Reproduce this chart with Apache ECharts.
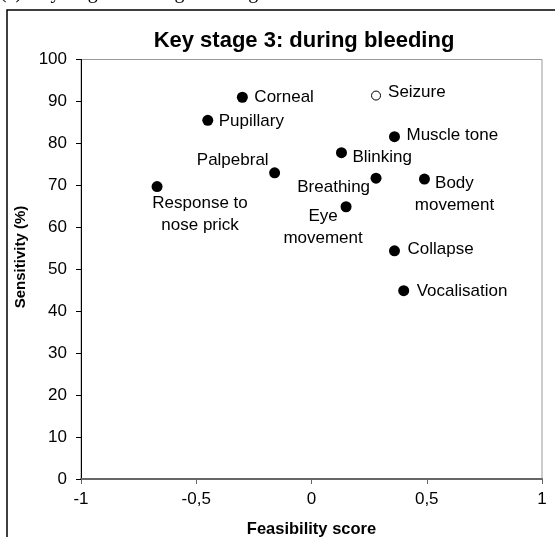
<!DOCTYPE html>
<html>
<head>
<meta charset="utf-8">
<script src="https://cdn.jsdelivr.net/npm/echarts@6/dist/echarts.min.js"></script>
<style>
html,body{margin:0;padding:0;background:#fff;}
#chart{width:555px;height:537px;}
</style>
</head>
<body>
<div id="chart"></div>
<script>
// ---- data ----
const names = ['Response to\nnose prick', 'Corneal', 'Pupillary', 'Palpebral', 'Seizure', 'Muscle tone',
  'Blinking', 'Breathing', 'Body\nmovement', 'Eye\nmovement', 'Collapse', 'Vocalisation'];
const feasibility = [-0.67, -0.30, -0.45, -0.16, 0.28, 0.36, 0.13, 0.28, 0.49, 0.15, 0.36, 0.40];
const sensitivity = [69.7, 91.0, 85.5, 73.0, 91.4, 81.6, 77.8, 71.7, 71.5, 64.9, 54.4, 44.9];
const openMarker = ['Seizure'];
const xTicks = [-1, -0.5, 0, 0.5, 1];
const yTicks = [0, 10, 20, 30, 40, 50, 60, 70, 80, 90, 100];

// ---- label placement (style) ----
const labelPlace = {
  'Response to\nnose prick': {align: 'center', offset: [43, 28]},
  'Corneal': {align: 'left', offset: [12, 0]},
  'Pupillary': {align: 'left', offset: [11, 1]},
  'Palpebral': {align: 'right', offset: [-6, -12]},
  'Seizure': {align: 'left', offset: [12, -3]},
  'Muscle tone': {align: 'left', offset: [12, -1]},
  'Blinking': {align: 'left', offset: [11, 5]},
  'Breathing': {align: 'right', offset: [-6, 9]},
  'Body\nmovement': {align: 'center', offset: [30, 15]},
  'Eye\nmovement': {align: 'center', offset: [-23, 21]},
  'Collapse': {align: 'left', offset: [13, -1]},
  'Vocalisation': {align: 'left', offset: [13, 1]}
};

const FONT = '"Liberation Sans", Arial, sans-serif';

const seriesData = names.map((n, i) => {
  const open = openMarker.indexOf(n) >= 0;
  const p = labelPlace[n];
  return {
    name: n,
    value: [feasibility[i], sensitivity[i]],
    symbolSize: open ? 9 : 11,
    itemStyle: open ? {color: '#fff', borderColor: '#000', borderWidth: 1, opacity: 1} : {color: '#000', opacity: 1},
    label: {
      show: true,
      position: 'inside',
      align: p.align,
      verticalAlign: 'middle',
      offset: p.offset,
      formatter: n,
      color: '#000',
      textBorderWidth: 0,
      fontFamily: FONT,
      fontSize: 17,
      lineHeight: 22
    }
  };
});

const chart = echarts.init(document.getElementById('chart'), null, {renderer: 'canvas'});
chart.setOption({
  animation: false,
  backgroundColor: '#fff',
  title: {
    text: 'Key stage 3: during bleeding',
    left: 299, top: 25, textAlign: 'center',
    textStyle: {fontFamily: FONT, fontSize: 22, fontWeight: 'bold', color: '#000'}
  },
  graphic: [
    {type: 'rect', shape: {x: 7, y: 10, width: 600, height: 600}, style: {fill: 'none', stroke: '#000', lineWidth: 1.5}, z: 0},
    {type: 'text', x: 0, y: 3, style: {text: '(c) Key stage 3: during bleeding', font: '20px "Liberation Serif", "Times New Roman", serif', fill: '#000', verticalAlign: 'bottom'}},
    {type: 'text', x: 21, y: 257, rotation: Math.PI / 2, style: {text: 'Sensitivity (%)', font: 'bold 15px "Liberation Sans", Arial, sans-serif', fill: '#000', align: 'center', verticalAlign: 'middle'}}
  ],
  grid: {left: 81, right: 13, top: 59.5, bottom: 58, show: true, borderColor: '#999', borderWidth: 1, backgroundColor: '#fff', outerBoundsMode: 'none', containLabel: false},
  xAxis: {
    type: 'value', min: xTicks[0], max: xTicks[xTicks.length - 1], interval: 0.5,
    name: 'Feasibility score', nameLocation: 'middle', nameGap: 42,
    nameTextStyle: {fontFamily: FONT, fontSize: 16.5, fontWeight: 'bold', color: '#000'},
    axisLine: {show: true, onZero: false, lineStyle: {color: '#666', width: 2}},
    axisTick: {show: true, inside: false, length: 5, lineStyle: {color: '#666', width: 1}},
    axisLabel: {margin: 12, fontFamily: FONT, fontSize: 17, color: '#000',
      formatter: v => String(v).replace('.', ',')},
    splitLine: {show: false}
  },
  yAxis: {
    type: 'value', min: yTicks[0], max: yTicks[yTicks.length - 1], interval: 10,
    axisLine: {show: true, onZero: false, lineStyle: {color: '#000', width: 1}},
    axisTick: {show: true, inside: false, length: 5, lineStyle: {color: '#000', width: 1}},
    axisLabel: {margin: 14, fontFamily: FONT, fontSize: 17, color: '#000'},
    splitLine: {show: false}
  },
  series: [{
    type: 'scatter',
    data: seriesData,
    symbol: 'circle'
  }]
});
</script>
</body>
</html>
